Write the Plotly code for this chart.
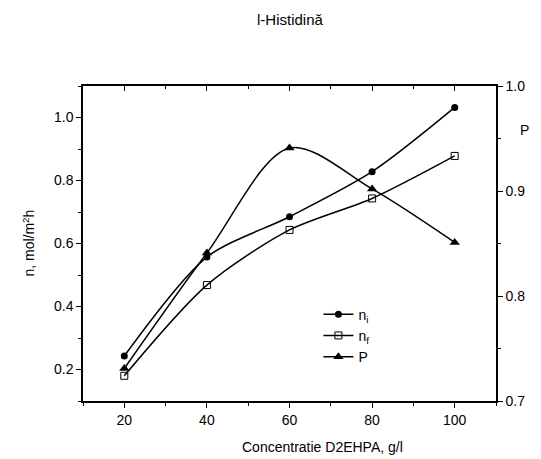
import plotly.graph_objects as go

conc = [20, 40, 60, 80, 100]
n_i = [0.243, 0.557, 0.685, 0.828, 1.032]
n_f = [0.180, 0.468, 0.643, 0.743, 0.878]
P = [0.731, 0.841, 0.941, 0.902, 0.851]

title = "l-Histidină"
x_title = "Concentratie D2EHPA, g/l"
y_title = "n, mol/m<sup>2</sup>h"
y2_title = "P"

font = dict(family="Liberation Sans, Arial", size=14, color="black")

fig = go.Figure()
fig.add_trace(go.Scatter(x=conc, y=n_i, name="n<sub>i</sub>", mode="lines+markers",
                         line=dict(color="black", width=1.5, shape="spline", smoothing=0.8),
                         marker=dict(symbol="circle", size=7, color="black")))
fig.add_trace(go.Scatter(x=conc, y=n_f, name="n<sub>f</sub>", mode="lines+markers",
                         line=dict(color="black", width=1.5, shape="spline", smoothing=0.8),
                         marker=dict(symbol="square-open", size=7, color="black", line=dict(width=1))))
fig.add_trace(go.Scatter(x=conc, y=P, name="P", mode="lines+markers", yaxis="y2",
                         line=dict(color="black", width=1.5, shape="spline", smoothing=0.9),
                         marker=dict(symbol="triangle-up", size=9, color="black")))

axis_common = dict(showline=True, linecolor="black", linewidth=1.5, showgrid=False,
                   zeroline=False, ticks="outside", ticklen=5, tickwidth=1, tickcolor="black",
                   tickfont=font)

fig.update_layout(
    width=533, height=451,
    margin=dict(l=75, r=45, t=78, b=58),
    paper_bgcolor="white", plot_bgcolor="white",
    font=font,
    title=dict(text=title, x=0.529, xanchor="center", y=0.973, yanchor="middle",
               font=dict(family="Liberation Sans, Arial", size=15, color="black")),
    xaxis=dict(range=[10, 110], dtick=20, tick0=0, mirror=True,
               minor=dict(dtick=10, ticks="outside", ticklen=3, tickcolor="black"),
               **axis_common),
    xaxis2=dict(range=[10, 110], dtick=20, tick0=0, overlaying="x", side="top",
                showticklabels=False, showline=False, showgrid=False, zeroline=False,
                ticks="inside", ticklen=5, tickcolor="black",
                minor=dict(dtick=10, ticks="inside", ticklen=3, tickcolor="black")),
    yaxis=dict(range=[0.1, 1.1], dtick=0.2, tick0=0, tickformat=".1f",
               minor=dict(dtick=0.1, ticks="outside", ticklen=3, tickcolor="black"),
               **axis_common),
    yaxis2=dict(range=[0.7, 1.0], dtick=0.1, tick0=0, tickformat=".1f", overlaying="y",
                side="right",
                minor=dict(dtick=0.05, ticks="outside", ticklen=3, tickcolor="black"),
                **axis_common),
    legend=dict(x=0.57, y=0.325, xanchor="left", yanchor="top", bgcolor="rgba(0,0,0,0)",
                font=font, tracegroupgap=0, itemwidth=30),
    showlegend=True,
)

# invisible trace to activate top axis ticks
fig.add_trace(go.Scatter(x=[10], y=[0.1], xaxis="x2", mode="markers",
                         marker=dict(opacity=0), showlegend=False, hoverinfo="skip"))

fig.add_annotation(text=x_title, xref="paper", yref="paper", x=0.58, y=-0.146,
                   xanchor="center", yanchor="middle", showarrow=False, font=font)
fig.add_annotation(text=y_title, xref="paper", yref="paper", x=-0.133, y=0.5,
                   xanchor="center", yanchor="middle", showarrow=False, textangle=-90, font=font)
fig.add_annotation(text=y2_title, xref="paper", yref="paper", x=1.07, y=0.86,
                   xanchor="center", yanchor="middle", showarrow=False, font=font)

fig.write_html("out.html")
